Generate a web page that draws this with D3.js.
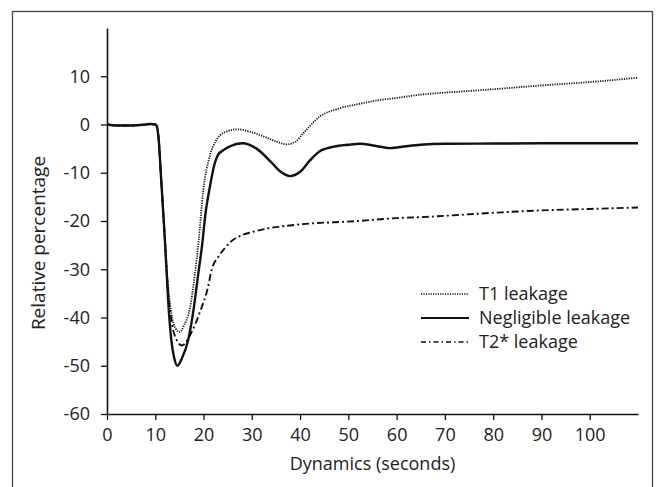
<!DOCTYPE html>
<html>
<head>
<meta charset="utf-8">
<script src="https://cdn.jsdelivr.net/npm/d3@7"></script>
<style>
  body { margin: 0; background: #fff; }
  text { font-family: 'Open Sans', 'DejaVu Sans', sans-serif; fill: #222; }
</style>
</head>
<body>
<svg id="chart" width="657" height="487"></svg>
<script>
// time (s) and relative percentage for each curve
const negT = [0, 2, 5, 8, 9, 10, 10.3, 10.7, 11.2, 12, 12.7, 13.3, 13.9, 14.6, 15.5, 16.8, 18.0, 18.9, 19.7, 20.4, 21.3, 22.2, 23, 24.3, 25.5, 28, 31, 34, 36, 37.9, 40, 42, 44, 47, 50, 52.4, 55.5, 58.6, 62, 65, 70, 80, 90, 100, 110];
const negV = [0, -0.2, -0.2, 0, 0.1, 0, -0.3, -3, -11, -24, -37, -44.5, -48.3, -50, -48.5, -44.7, -37.9, -31, -25, -18.5, -13, -8.5, -6.3, -5.2, -4.5, -3.9, -5, -7.8, -9.8, -10.7, -9.8, -7.5, -5.6, -4.6, -4.2, -4.0, -4.4, -4.9, -4.5, -4.2, -4.0, -3.95, -3.9, -3.9, -3.9];

const t1T = [0, 2, 5, 8, 9, 10, 10.3, 10.7, 11.2, 12, 12.7, 13.4, 14.2, 15.1, 16, 17.2, 18.2, 19, 19.9, 21.3, 22.5, 24.4, 27, 30, 33, 35, 37.2, 39, 40.6, 44, 48, 52.4, 56, 60, 65, 70, 80, 90, 100, 110];
const t1V = [0, -0.2, -0.2, 0, 0.1, 0, -0.3, -3, -11, -24, -34, -39.5, -42.3, -43, -41.5, -38, -31, -24, -14, -6.5, -3.5, -1.6, -1, -1.6, -2.7, -3.5, -4.1, -3.6, -1.9, 1.6, 3.3, 4.3, 5.0, 5.5, 6.2, 6.6, 7.3, 8.1, 8.8, 9.7];

const t2T = [0, 2, 5, 8, 9, 10, 10.3, 10.7, 11.2, 12, 12.7, 13.5, 14.5, 15.5, 16.3, 17.2, 19.2, 20.9, 21.7, 23, 24.5, 26, 28, 30, 33, 40, 52, 60, 65, 80, 90, 100, 110];
const t2V = [0, -0.2, -0.2, 0, 0.1, 0, -0.3, -3, -11, -24, -35, -41.5, -44.8, -45.8, -45.2, -43.7, -39, -33.8, -30, -27.5, -25.5, -24, -22.9, -22.3, -21.6, -20.7, -20, -19.4, -19.2, -18.3, -17.8, -17.5, -17.2];

const xTicks = [0, 10, 20, 30, 40, 50, 60, 70, 80, 90, 100];
const yTicks = [-60, -50, -40, -30, -20, -10, 0, 10];
const seriesNames = ['T1 leakage', 'Negligible leakage', 'T2* leakage'];

const svg = d3.select('#chart');
const margin = { left: 107, right: 19, top: 28, bottom: 73 };
const width = 657, height = 487;

// outer frame
svg.append('rect')
  .attr('x', 12.5).attr('y', 11.5)
  .attr('width', 640).attr('height', 490)
  .attr('fill', 'none').attr('stroke', '#444').attr('stroke-width', 1.3);

const x = d3.scaleLinear().domain([0, 110]).range([margin.left, width - margin.right]);
const y = d3.scaleLinear().domain([-60, 20]).range([height - margin.bottom, margin.top]);

// plain hyphen for negatives, like the original
const fmt = d => String(d);

const xAxis = svg.append('g')
  .attr('transform', `translate(0,${y(-60)})`)
  .call(d3.axisBottom(x).tickValues(xTicks).tickFormat(fmt).tickSize(6).tickPadding(8).tickSizeOuter(0));
const yAxis = svg.append('g')
  .attr('transform', `translate(${x(0)},0)`)
  .call(d3.axisLeft(y).tickValues(yTicks).tickFormat(fmt).tickSize(6).tickPadding(11).tickSizeOuter(0));

[xAxis, yAxis].forEach(g => {
  g.select('.domain').attr('stroke', '#111').attr('stroke-width', 1.6);
  g.selectAll('.tick line').attr('stroke', '#111').attr('stroke-width', 1.3);
  g.selectAll('.tick text')
    .style('font-family', "'Open Sans', sans-serif")
    .style('font-size', '18px')
    .attr('fill', '#222');
});

svg.append('text')
  .attr('x', (x(0) + x(110)) / 2)
  .attr('y', 470)
  .attr('text-anchor', 'middle')
  .style('font-size', '18px')
  .text('Dynamics (seconds)');

svg.append('text')
  .attr('transform', `translate(45,243) rotate(-90)`)
  .attr('text-anchor', 'middle')
  .style('font-size', '19px')
  .text('Relative percentage');

const line = d3.line()
  .x(d => x(d[0]))
  .y(d => y(d[1]))
  .curve(d3.curveMonotoneX);

const styles = [
  { dash: '1.2,1.2', width: 1.8 },
  { dash: null, width: 2.4 },
  { dash: '7,3,2,3', width: 1.9 }
];
const series = [
  d3.zip(t1T, t1V),
  d3.zip(negT, negV),
  d3.zip(t2T, t2V)
];

// draw the dash-dot first so the solid sits on top
[2, 0, 1].forEach(i => {
  svg.append('path')
    .datum(series[i])
    .attr('d', line)
    .attr('fill', 'none')
    .attr('stroke', '#111')
    .attr('stroke-width', styles[i].width)
    .attr('stroke-dasharray', styles[i].dash);
});

// legend
const legend = svg.append('g').attr('transform', 'translate(421,294)');
seriesNames.forEach((name, i) => {
  const row = legend.append('g').attr('transform', `translate(0,${i * 24})`);
  row.append('line')
    .attr('x1', 0).attr('x2', 48)
    .attr('stroke', '#111')
    .attr('stroke-width', i === 1 ? 2.2 : 1.4)
    .attr('stroke-dasharray', i === 0 ? '1.2,1.2' : i === 2 ? '5,3,1.5,3' : null);
  row.append('text')
    .attr('x', 58).attr('y', 0).attr('dy', '0.35em')
    .style('font-size', '18px')
    .text(name);
});
</script>
</body>
</html>
